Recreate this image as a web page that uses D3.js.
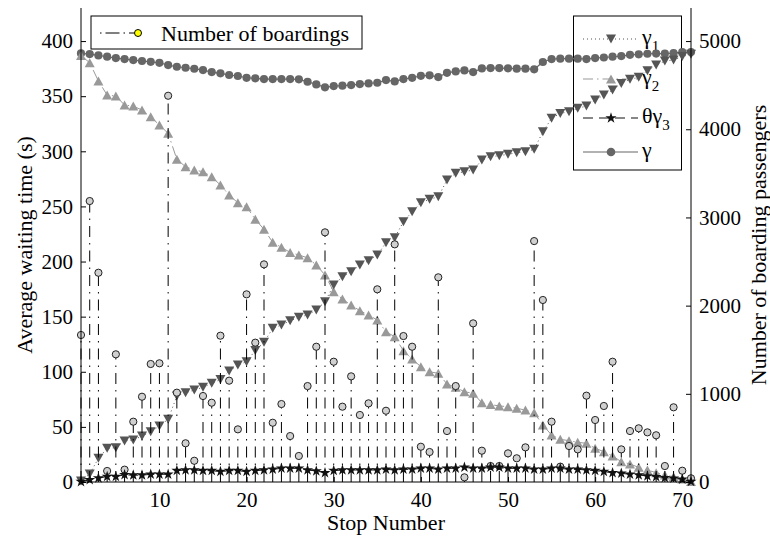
<!DOCTYPE html>
<html>
<head>
<meta charset="utf-8">
<script src="https://cdn.jsdelivr.net/npm/d3@7/dist/d3.min.js"></script>
<style>
  html, body { margin: 0; padding: 0; background: #fff; }
  svg { display: block; }
  text { font-family: "Liberation Serif", "Times New Roman", Times, serif; fill: #000; }
</style>
</head>
<body>
<svg id="chart" width="770" height="538"></svg>
<script>
// Stop indices along the route
const stops = d3.range(1, 72);

// Number of boarding passengers per stop (right axis)
const boardings = [1667, 3186, 2373, 125, 1448, 140, 684, 967, 1338, 1346,
  4380, 1013, 439, 241, 975, 899, 1659, 1149, 597, 2128,
  1580, 2468, 672, 884, 521, 295, 1088, 1534, 2831, 1364,
  854, 1198, 760, 892, 2185, 808, 2695, 1655, 1534, 400,
  340, 2321, 578, 1088, 53, 1799, 355, 181, 181, 325,
  269, 393, 2732, 2064, 684, 174, 408, 370, 979, 703,
  862, 1364, 370, 578, 609, 563, 530, 181, 847, 128, 42];

// Waiting-time components (left axis, seconds)
const gamma1 = [1, 7.3, 21.5, 30.6, 31.1, 37.2, 38.1, 41.7, 45.6, 50.8,
  56.9, 78, 81, 83.4, 85.9, 89.5, 93, 100.7, 106.1, 109.1,
  119.4, 126.7, 139.4, 142.4, 146.3, 149.4, 151.5, 156, 163.5, 178.7,
  186.2, 190.7, 196.8, 200.7, 205.9, 217.1, 221.6, 236.1, 245.2, 253.3,
  256.4, 258.8, 273.9, 280, 281.5, 283, 292, 295.1, 296, 297.3,
  298.7, 299.6, 301.8, 317.7, 329.9, 334.4, 335.9, 339, 341, 346.5,
  351, 355.6, 361.6, 365.3, 367.1, 373.1, 378.2, 381.9, 382.8, 386, 388];

const gamma2 = [387, 380.3, 363.7, 351, 350.1, 342, 341, 337.4, 331.4, 323.8,
  316.3, 292.7, 286, 283, 281.5, 276.9, 269.4, 260.3, 253.3, 249.7,
  238.3, 229.2, 217.4, 212.9, 208.3, 205.9, 203.4, 196.8, 187.8, 172.6,
  166, 160.5, 155.4, 151.5, 146.9, 136.3, 131.8, 119.1, 111.5, 104.6,
  100, 98.6, 88.9, 85.9, 81.9, 80.5, 71.9, 70.2, 69, 68.3,
  66.8, 65.3, 62.9, 51.7, 42.6, 38.7, 37.5, 36, 35.1, 30.6,
  27.5, 23.6, 18.4, 16.3, 13.3, 10.9, 8.4, 6.3, 4.8, 2.7, 0.5];

const thetaGamma3 = [0.3, 2, 3.5, 5, 5, 6.5, 6.2, 6.2, 7, 7,
  7, 10.3, 10.9, 10.9, 10.3, 10.3, 9.4, 10.3, 10.3, 9.4,
  10.3, 10.9, 11.5, 12.4, 12.4, 12.4, 10.9, 10, 8.4, 10.3,
  10.9, 10.9, 10.9, 10.9, 10.9, 11.5, 10.9, 11.5, 11.5, 12.4,
  12.4, 11.5, 12.4, 12.4, 13.3, 12.4, 12.4, 13.3, 13.3, 12.4,
  12.4, 12.4, 11.5, 11.5, 12.4, 12.4, 11.5, 11.5, 10.9, 10.3,
  9.4, 8.4, 7.9, 7, 6.4, 5.4, 4.8, 3.9, 3.3, 2.4, 0.5];

const gammaTotal = [388.8, 388.2, 387.0, 385.8, 384.6, 383.7, 382.8, 381.9, 381.2, 380.3,
  378.2, 376.7, 375.8, 374.9, 373.7, 371.9, 370.7, 369.2, 368.3, 366.7,
  366.2, 365.5, 365.5, 365.5, 365.5, 365.3, 363.1, 360.7, 358.0, 359.2,
  359.5, 360.1, 361.0, 361.6, 362.2, 364.6, 363.4, 365.5, 366.7, 368.5,
  368.9, 367.3, 371.2, 372.5, 373.4, 371.9, 375.2, 375.5, 375.5, 375.3,
  375.0, 375.0, 374.4, 381.0, 383.7, 384.0, 384.0, 384.0, 383.7, 384.6,
  385.1, 385.8, 386.4, 387.5, 388.0, 388.5, 388.7, 388.7, 389.0, 390.0, 390.0];

const xTicks = [10, 20, 30, 40, 50, 60, 70];
const yLeftTicks = [0, 50, 100, 150, 200, 250, 300, 350, 400];
const yRightTicks = [0, 1000, 2000, 3000, 4000, 5000];

const svg = d3.select("#chart");
const x0 = 81, x1 = 691, yTop = 8, yBot = 482;

const x = d3.scaleLinear().domain([1, 71]).range([x0, x1]);
const yL = d3.scaleLinear().domain([0, 430]).range([yBot, yTop]);
const yR = d3.scaleLinear().domain([0, 5375]).range([yBot, yTop]);

// marker shapes
const triUp = "M-5,4.5L5,4.5L0,-4.5Z";
const triDown = "M-5,-4.5L5,-4.5L0,4.5Z";
const star = d3.symbol().type(d3.symbolStar).size(38)();

// ---- legends (drawn first, data passes over them) ----
const leg1 = svg.append("g");
leg1.append("rect").attr("x", 91).attr("y", 16).attr("width", 271).attr("height", 33)
  .attr("fill", "none").attr("stroke", "#000").attr("stroke-width", 1);
leg1.append("line").attr("x1", 100).attr("x2", 138).attr("y1", 33).attr("y2", 33)
  .attr("stroke", "#000").attr("stroke-dasharray", "1.5,4,14,4");
leg1.append("circle").attr("cx", 138).attr("cy", 33).attr("r", 3.5)
  .attr("fill", "#ffff00").attr("stroke", "#000");
leg1.append("text").attr("x", 161).attr("y", 40.5).attr("font-size", 22).text("Number of boardings");

const leg2 = svg.append("g");
leg2.append("rect").attr("x", 573.5).attr("y", 16).attr("width", 108).attr("height", 154)
  .attr("fill", "none").attr("stroke", "#000").attr("stroke-width", 1);
const legRows = [
  {y: 39, color: "#555", dash: "1,3", marker: triDown, main: "γ", sub: "1", pre: ""},
  {y: 79, color: "#999", dash: "10,4,1.5,4", marker: triUp, main: "γ", sub: "2", pre: ""},
  {y: 118, color: "#111", dash: "10,6", marker: star, main: "γ", sub: "3", pre: "θ"},
  {y: 152, color: "#666", dash: null, marker: "circle", main: "γ", sub: "", pre: ""}
];
legRows.forEach(r => {
  leg2.append("line").attr("x1", 583).attr("x2", 638).attr("y1", r.y).attr("y2", r.y)
    .attr("stroke", r.color).attr("stroke-width", 1.2)
    .attr("stroke-dasharray", r.dash);
  if (r.marker === "circle") {
    leg2.append("circle").attr("cx", 611).attr("cy", r.y).attr("r", 4.3).attr("fill", r.color);
  } else {
    leg2.append("path").attr("d", r.marker).attr("transform", `translate(611,${r.y})`).attr("fill", r.color);
  }
  const t = leg2.append("text").attr("x", 642).attr("y", r.y + 5).attr("font-size", 22);
  t.append("tspan").text(r.pre + r.main);
  if (r.sub) t.append("tspan").attr("font-size", 15).attr("dy", 7).text(r.sub);
});

// ---- series lines ----
const line = ys => d3.line().x((d, i) => x(stops[i])).y(d => yL(d))(ys);

svg.append("path").attr("d", line(gammaTotal)).attr("fill", "none")
  .attr("stroke", "#666").attr("stroke-width", 1.2);
svg.append("path").attr("d", line(gamma1)).attr("fill", "none")
  .attr("stroke", "#555").attr("stroke-width", 1).attr("stroke-dasharray", "1,3");
svg.append("path").attr("d", line(gamma2)).attr("fill", "none")
  .attr("stroke", "#999").attr("stroke-width", 1).attr("stroke-dasharray", "10,4,1.5,4");
svg.append("path").attr("d", line(thetaGamma3)).attr("fill", "none")
  .attr("stroke", "#111").attr("stroke-width", 1).attr("stroke-dasharray", "10,6");

// markers
svg.append("g").selectAll("circle").data(gammaTotal).join("circle")
  .attr("cx", (d, i) => x(stops[i])).attr("cy", d => yL(d)).attr("r", 4.1).attr("fill", "#666");
svg.append("g").selectAll("path").data(gamma2).join("path")
  .attr("d", triUp).attr("transform", (d, i) => `translate(${x(stops[i])},${yL(d)})`).attr("fill", "#999");
svg.append("g").selectAll("path").data(gamma1).join("path")
  .attr("d", triDown).attr("transform", (d, i) => `translate(${x(stops[i])},${yL(d)})`).attr("fill", "#555");

// ---- boardings stems ----
const stems = svg.append("g");
stems.selectAll("line").data(boardings).join("line")
  .attr("x1", (d, i) => x(stops[i])).attr("x2", (d, i) => x(stops[i]))
  .attr("y1", yR(0)).attr("y2", d => yR(d))
  .attr("stroke", "#000").attr("stroke-width", 1).attr("stroke-dasharray", "11,6,1.5,6");

svg.append("g").selectAll("path").data(thetaGamma3).join("path")
  .attr("d", star).attr("transform", (d, i) => `translate(${x(stops[i])},${yL(d)})`).attr("fill", "#111");

stems.selectAll("circle").data(boardings).join("circle")
  .attr("cx", (d, i) => x(stops[i])).attr("cy", d => yR(d)).attr("r", 3.6)
  .attr("fill", "#d0d0d0").attr("stroke", "#222").attr("stroke-width", 1);

// ---- axes ----
const axB = svg.append("g").attr("transform", `translate(0,${yBot})`)
  .call(d3.axisBottom(x).tickValues(xTicks).tickSize(-5).tickPadding(10).tickFormat(d3.format("d")));
const axL = svg.append("g").attr("transform", `translate(${x0},0)`)
  .call(d3.axisLeft(yL).tickValues(yLeftTicks).tickSize(-5).tickPadding(8).tickFormat(d3.format("d")));
const axR = svg.append("g").attr("transform", `translate(${x1},0)`)
  .call(d3.axisRight(yR).tickValues(yRightTicks).tickSize(-5).tickPadding(8).tickFormat(d3.format("d")));

[axB, axL, axR].forEach(a => {
  a.attr("font-family", null);
  a.select(".domain").remove();
  a.selectAll(".tick line").attr("stroke", "#000");
  a.selectAll(".tick text").attr("font-size", 21).attr("fill", "#000");
});
axB.selectAll(".tick text").attr("dy", "0.71em");

svg.append("line").attr("x1", x0).attr("x2", x1).attr("y1", yBot).attr("y2", yBot).attr("stroke", "#000");
svg.append("line").attr("x1", x0).attr("x2", x0).attr("y1", yTop).attr("y2", yBot).attr("stroke", "#000");
svg.append("line").attr("x1", x1).attr("x2", x1).attr("y1", yTop).attr("y2", yBot).attr("stroke", "#000");

// axis titles
svg.append("text").attr("x", (x0 + x1) / 2).attr("y", 530).attr("text-anchor", "middle")
  .attr("font-size", 22).text("Stop Number");
svg.append("text").attr("transform", `translate(32,${(yTop + yBot) / 2}) rotate(-90)`)
  .attr("text-anchor", "middle").attr("font-size", 22).text("Average waiting time (s)");
svg.append("text").attr("transform", `translate(766,${(yTop + yBot) / 2}) rotate(-90)`)
  .attr("text-anchor", "middle").attr("font-size", 22).text("Number of boarding passengers");
</script>
</body>
</html>
